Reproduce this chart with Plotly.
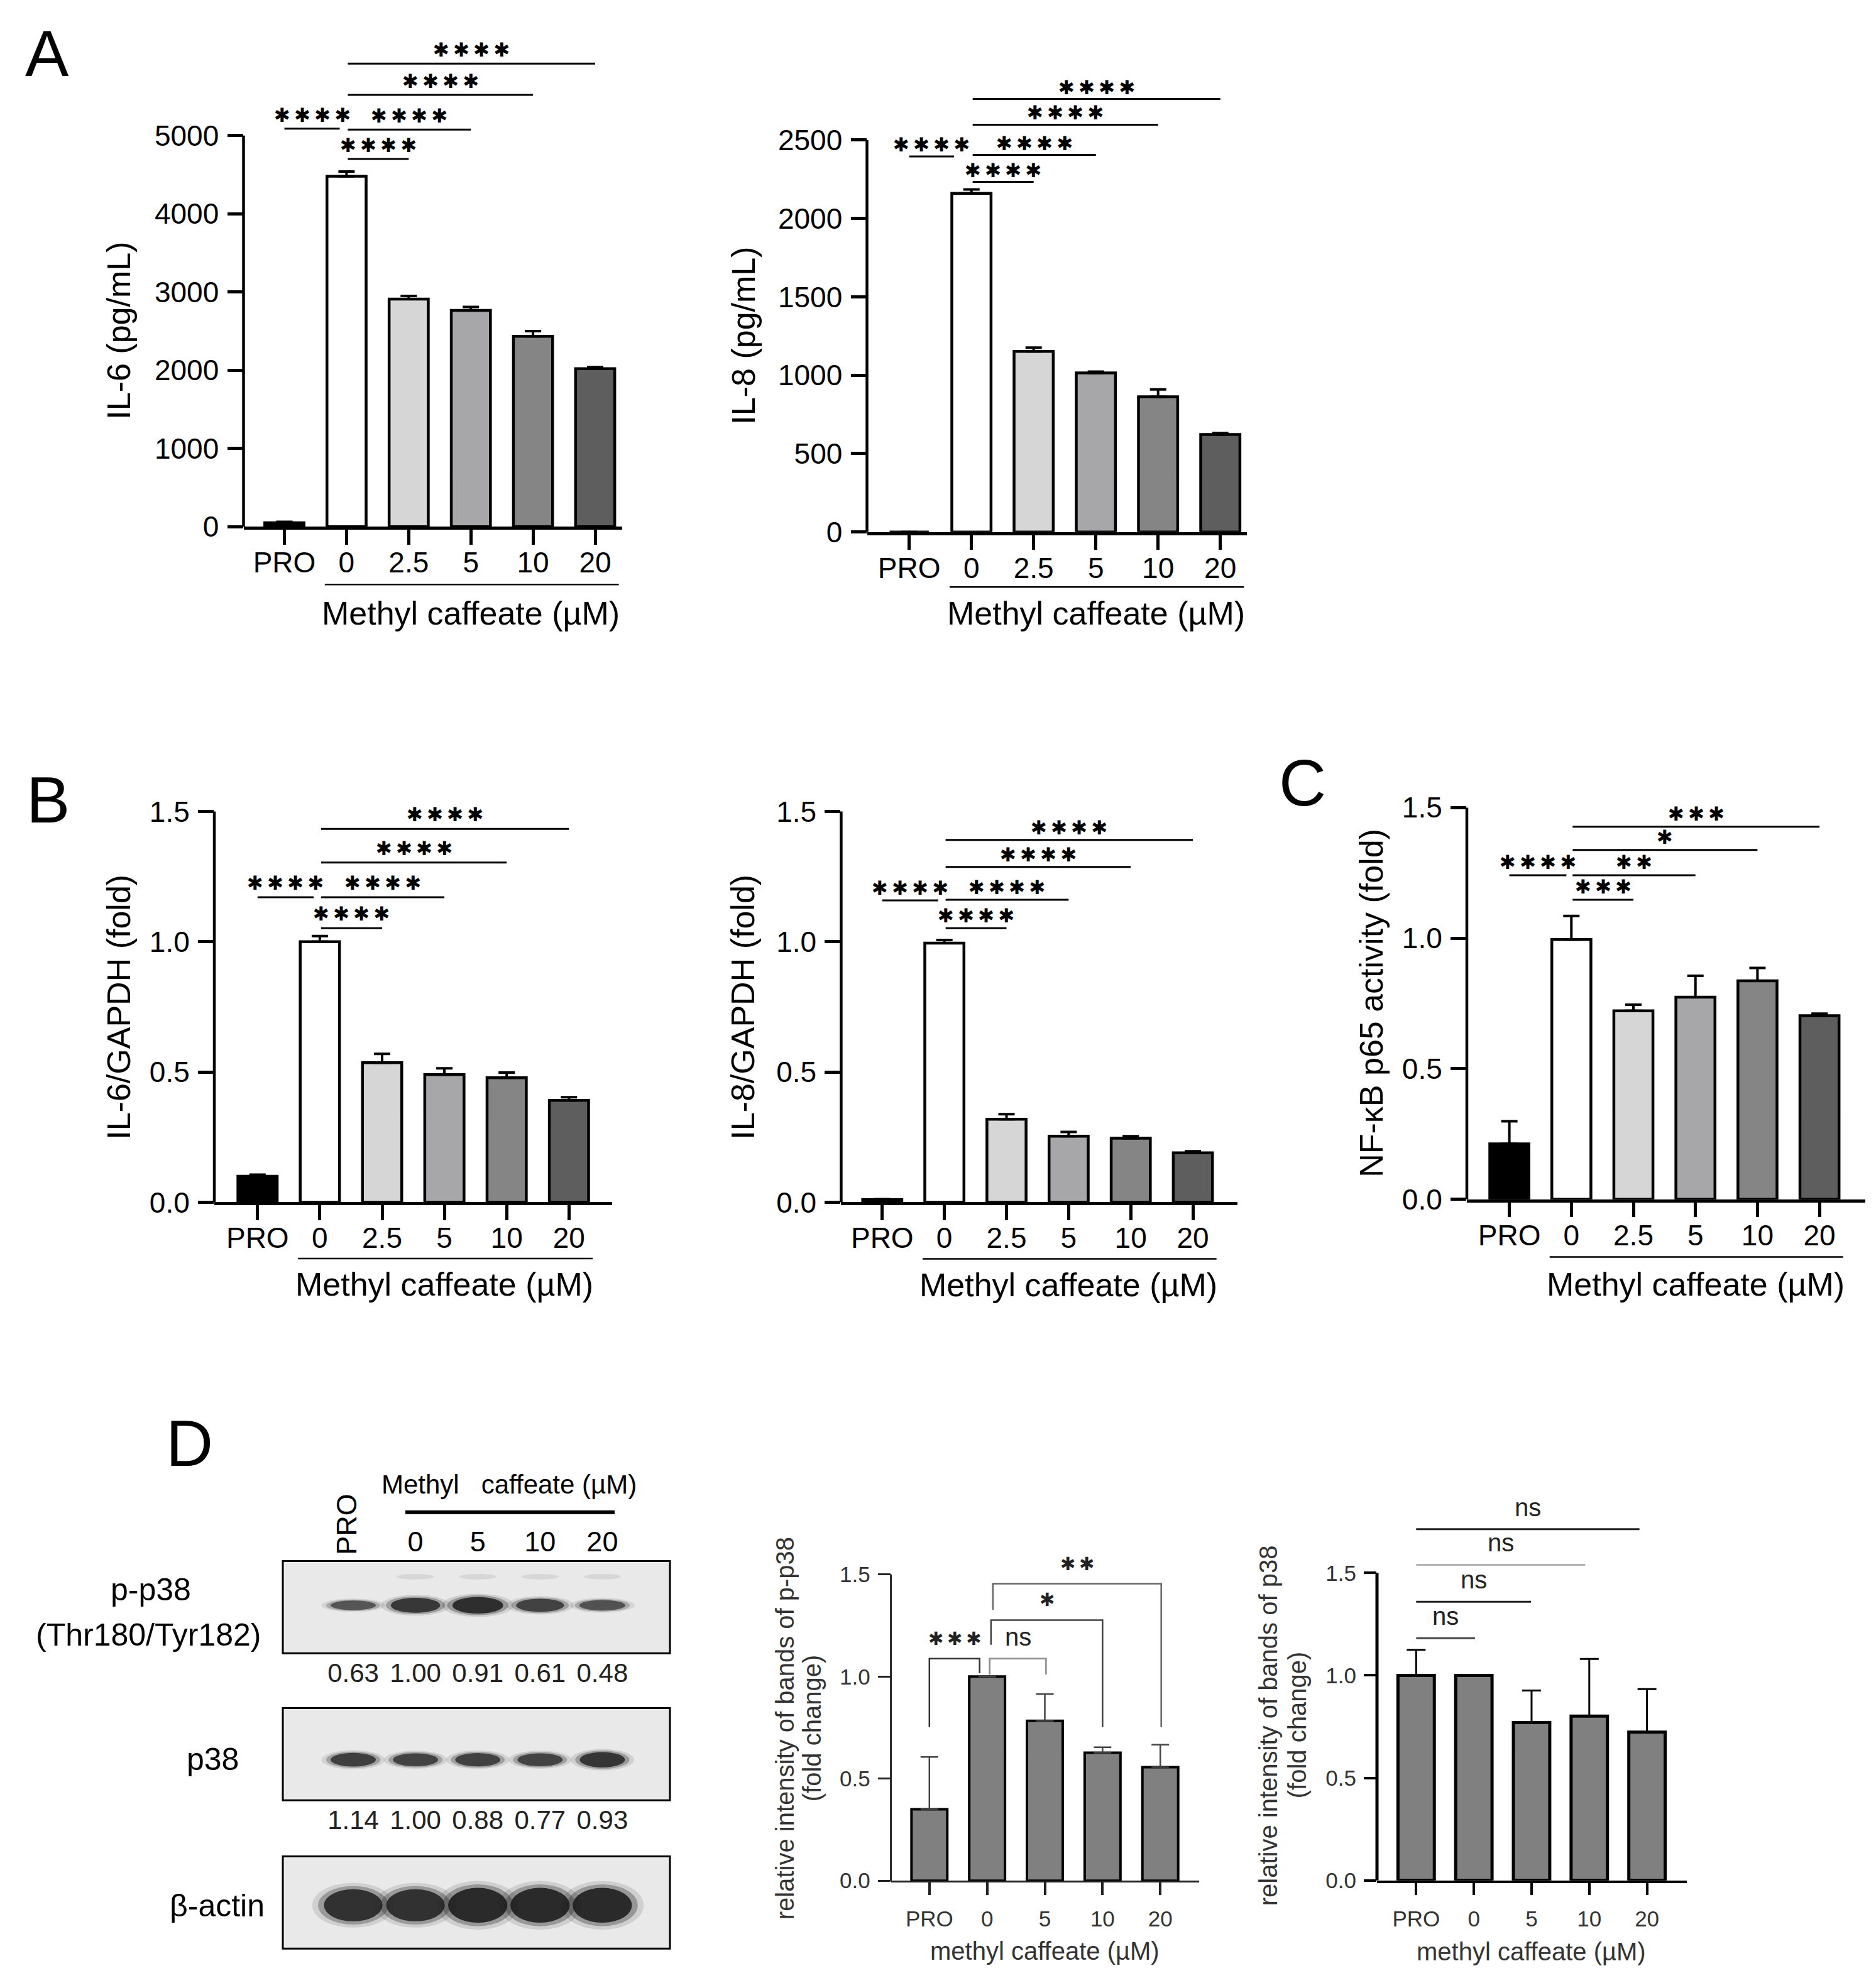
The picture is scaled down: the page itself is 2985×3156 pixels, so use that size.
import plotly.graph_objects as go

W, H = 2985, 3156
FONT = "Liberation Sans, Arial, Helvetica, sans-serif"
STAR_FONT = "DejaVu Sans, Liberation Sans, sans-serif"

# ------------------------------------------------------------------ data
cats6 = ["PRO", "0", "2.5", "5", "10", "20"]
cats5 = ["PRO", "0", "5", "10", "20"]

il6_pg = [50, 4480, 2910, 2765, 2435, 2020]
il6_pg_err = [12, 60, 40, 45, 65, 20]
il8_pg = [0, 2160, 1152, 1015, 862, 622]
il8_pg_err = [0, 25, 24, 8, 47, 9]
il6_gapdh = [0.10, 1.00, 0.536, 0.490, 0.478, 0.391]
il6_gapdh_err = [0.006, 0.022, 0.034, 0.024, 0.020, 0.012]
il8_gapdh = [0.010, 0.995, 0.319, 0.254, 0.246, 0.190]
il8_gapdh_err = [0.002, 0.012, 0.019, 0.016, 0.008, 0.006]
nfkb_p65 = [0.212, 0.995, 0.722, 0.774, 0.837, 0.703]
nfkb_p65_err = [0.087, 0.090, 0.023, 0.082, 0.049, 0.008]
pp38_fold = [0.35, 1.00, 0.783, 0.627, 0.556]
pp38_fold_err = [0.256, 0.0, 0.131, 0.027, 0.110]
p38_fold = [1.00, 1.00, 0.770, 0.801, 0.723]
p38_fold_err = [0.125, 0.0, 0.156, 0.279, 0.210]

blot_lanes = ["PRO", "0", "5", "10", "20"]
pp38_ratio = ["0.63", "1.00", "0.91", "0.61", "0.48"]
p38_ratio = ["1.14", "1.00", "0.88", "0.77", "0.93"]
pp38_density = [0.55, 0.85, 0.95, 0.75, 0.60]
p38_density = [0.78, 0.74, 0.76, 0.74, 0.88]
actin_density = [0.92, 0.92, 1.00, 1.00, 1.00]

# significance comparisons (group i, group j, label)
sig_A1 = [(0, 1, "****"), (1, 2, "****"), (1, 3, "****"), (1, 4, "****"), (1, 5, "****")]
sig_A2 = [(0, 1, "****"), (1, 2, "****"), (1, 3, "****"), (1, 4, "****"), (1, 5, "****")]
sig_B1 = [(0, 1, "****"), (1, 2, "****"), (1, 3, "****"), (1, 4, "****"), (1, 5, "****")]
sig_B2 = [(0, 1, "****"), (1, 2, "****"), (1, 3, "****"), (1, 4, "****"), (1, 5, "****")]
sig_C = [(0, 1, "****"), (1, 2, "***"), (1, 3, "**"), (1, 4, "*"), (1, 5, "***")]
sig_D2 = [(0, 1, "***"), (1, 2, "ns"), (1, 3, "*"), (1, 4, "**")]
sig_D3 = [(0, 1, "ns"), (0, 2, "ns"), (0, 3, "ns"), (0, 4, "ns")]

# ------------------------------------------------------------------ layout (pixel geometry)
sigy_A1 = [5088, 4701, 5076, 5521, 5920]
sigy_A2 = [2395, 2233, 2405, 2598, 2762]
sigy_B1 = [1.171, 1.052, 1.171, 1.304, 1.433]
sigy_B2 = [1.159, 1.052, 1.161, 1.2875, 1.391]
sigy_C = [1.241, 1.147, 1.241, 1.338, 1.427]
# D2 brackets: bar height, left leg bottom, right leg bottom, x start, x end
brk_D2 = [(1.0876, 0.7524, 1.016, 0.0, 0.87),
          (1.0876, 1.009, 1.009, 1.044, 2.02),
          (1.2766, 1.1557, 0.7524, 1.067, 3.0),
          (1.4548, 1.3263, 0.7524, 1.10, 4.016)]
brk_D2_col = ["#333333", "#8a8a8a", "#444444", "#666666"]
sigy_D3 = [1.181, 1.359, 1.5395, 1.7128]
sigx1_D3 = [1.02, 1.99, 2.93, 3.87]
sig_D3_col = ["#444444", "#222222", "#b4b4b4", "#222222"]

GEOM = {
    "A1": dict(axis=379.5, c0=444.5, step=98.9, right=982, zero=837.2, top=209.5, ext=30,
               ticks=[0, 1000, 2000, 3000, 4000, 5000], fmt="d", pro_end=0.89),
    "A2": dict(axis=1371.5, c0=1438.7, step=99.0, right=1976, zero=845.6, top=216.7, ext=90,
               ticks=[0, 500, 1000, 1500, 2000, 2500], fmt="d", pro_end=0.72),
    "B1": dict(axis=333, c0=401.8, step=99.1, right=966, zero=1921.3, top=1294.2, ext=1240,
               ticks=[0, 0.5, 1.0, 1.5], fmt=".1f", pro_end=0.9),
    "B2": dict(axis=1330.4, c0=1395.8, step=98.85, right=1960.6, zero=1921.3, top=1294.2, ext=1240,
               ticks=[0, 0.5, 1.0, 1.5], fmt=".1f", pro_end=0.9),
    "C": dict(axis=2326, c0=2393.6, step=98.7, right=2960, zero=1916.5, top=1288, ext=1240,
              ticks=[0, 0.5, 1.0, 1.5], fmt=".1f", pro_end=0.92),
    "D2": dict(axis=1409.6, c0=1470.8, step=91.85, right=1900.4, zero=3010, top=2518.6, ext=2460,
               ticks=[0, 0.5, 1.0, 1.5], fmt=".1f", pro_end=0.87),
    "D3": dict(axis=2183, c0=2245.3, step=91.83, right=2676.4, zero=3009.5, top=2516, ext=2370,
               ticks=[0, 0.5, 1.0, 1.5], fmt=".1f", pro_end=1.0),
}

GRAYS = ["#000000", "#ffffff", "#d6d6d6", "#a7a7aa", "#858585", "#5e5e5e"]
D_FILL = "#808080"

STY_ABC = dict(axcolor="black", xlw=4.5, ylw=4.5, xticklen=24, xtickw=4.5, yticklen=25, ytickw=4.5,
               catsize=46, ticksize=46, textcolor="black", barline=4.5, barw=0.63,
               errcolor="black", errthick=4, errwidth=13, catstandoff=-11, ystandoff=4)
STY_D2 = dict(axcolor="#222222", xlw=3, ylw=3, xticklen=20, xtickw=4, yticklen=20, ytickw=3,
              catsize=35, ticksize=35, textcolor="#333333", barline=4, barw=0.62,
              errcolor="#444444", errthick=2.5, errwidth=14, catstandoff=8, ystandoff=5)
STY_D3 = dict(axcolor="black", xlw=3.5, ylw=5, xticklen=20, xtickw=4, yticklen=20, ytickw=4,
              catsize=35, ticksize=35, textcolor="#333333", barline=5, barw=0.63,
              errcolor="black", errthick=3, errwidth=15, catstandoff=8, ystandoff=5)


def px_x(p):
    return p / W


def px_y(p):
    return 1 - p / H


def stars(lbl):
    # significance asterisks drawn with a compact asterisk glyph
    return "\u2009".join("\u2731" for _ in lbl) if set(lbl) == {"*"} else lbl


fig = go.Figure()
layout = dict(width=W, height=H, autosize=False, margin=dict(l=0, r=0, t=0, b=0),
              paper_bgcolor="white", plot_bgcolor="rgba(0,0,0,0)", showlegend=False,
              font=dict(family=FONT, color="black"))
shapes = []
annotations = []


def names(n):
    s = "" if n == 1 else str(n)
    return "xaxis" + s, "yaxis" + s, "x" + s, "y" + s


def bar_panel(n, g, cats, vals, errs, colors, st):
    xk, yk, xr, yr = names(n)
    x0 = (g["axis"] - g["c0"]) / g["step"]
    x1 = (g["right"] - g["c0"]) / g["step"]
    topval = g["ticks"][-1]
    ytop = topval * (g["zero"] - g["ext"]) / (g["zero"] - g["top"])
    if g["fmt"] == "d":
        ttext = [str(int(v)) for v in g["ticks"]]
    else:
        ttext = ["%.1f" % v for v in g["ticks"]]
    layout[xk] = dict(domain=[px_x(g["axis"]), px_x(g["right"])], range=[x0, x1], anchor=yr,
                      tickmode="array", tickvals=list(range(len(cats))), ticktext=cats,
                      showline=True, linecolor=st["axcolor"], linewidth=st["xlw"],
                      ticks="outside", ticklen=st["xticklen"], tickwidth=st["xtickw"],
                      tickcolor=st["axcolor"], ticklabelstandoff=st["catstandoff"],
                      tickfont=dict(size=st["catsize"], color=st["textcolor"], family=FONT),
                      showgrid=False, zeroline=False, fixedrange=True)
    layout[yk] = dict(domain=[px_y(g["zero"]), px_y(g["ext"])], range=[0, ytop], anchor=xr,
                      tickmode="array", tickvals=g["ticks"], ticktext=ttext,
                      showline=False, ticks="outside", ticklen=st["yticklen"],
                      tickwidth=st["ytickw"], tickcolor=st["axcolor"],
                      ticklabelstandoff=st["ystandoff"],
                      tickfont=dict(size=st["ticksize"], color=st["textcolor"], family=FONT),
                      showgrid=False, zeroline=False, fixedrange=True)
    # y axis line only up to the top tick
    shapes.append(dict(type="line", xref=xr + " domain", yref=yr, x0=0, x1=0, y0=0, y1=topval,
                       line=dict(color=st["axcolor"], width=st["ylw"]), layer="above"))
    fig.add_trace(go.Bar(
        x=list(range(len(vals))), y=vals, width=st["barw"], xaxis=xr, yaxis=yr,
        marker=dict(color=colors, line=dict(color="black", width=st["barline"])),
        error_y=dict(type="data", symmetric=False, array=errs, arrayminus=[0] * len(errs),
                     color=st["errcolor"], thickness=st["errthick"], width=st["errwidth"]),
        showlegend=False, hoverinfo="skip"))
    return xr, yr


def flat_sig(xr, yr, g, sig, heights, size=31, lw=3, shift=20):
    for (i, j, lbl), h in zip(sig, heights):
        xa = i if i == 0 else i + 0.02
        xb = g["pro_end"] if (i == 0 and j == 1) else j
        shapes.append(dict(type="line", xref=xr, yref=yr, x0=xa, x1=xb, y0=h, y1=h,
                           line=dict(color="black", width=lw), layer="above"))
        annotations.append(dict(xref=xr, yref=yr, x=(xa + xb) / 2, y=h, text=stars(lbl),
                                showarrow=False, xanchor="center", yanchor="middle", yshift=shift,
                                font=dict(size=size, color="black", family=STAR_FONT)))


def methyl_label(xr, y_line, y_text, size=52):
    shapes.append(dict(type="line", xref=xr, yref="paper", x0=0.65, x1=5.38,
                       y0=px_y(y_line), y1=px_y(y_line), line=dict(color="black", width=2.5)))
    annotations.append(dict(xref=xr, yref="paper", x=3, y=px_y(y_text), text="Methyl caffeate (µM)",
                            showarrow=False, xanchor="center", yanchor="middle",
                            font=dict(size=size, color="black", family=FONT)))


def ytitle(text, xp, yp, size=52, color="black"):
    annotations.append(dict(xref="paper", yref="paper", x=px_x(xp), y=px_y(yp), text=text,
                            textangle=-90, showarrow=False, xanchor="center", yanchor="middle",
                            font=dict(size=size, color=color, family=FONT)))


def letter(text, xp, yp):
    annotations.append(dict(xref="paper", yref="paper", x=px_x(xp), y=px_y(yp), text=text,
                            showarrow=False, xanchor="center", yanchor="middle",
                            font=dict(size=104, color="black", family=FONT)))


# ------------------------------------------------------------------ panels A, B, C
xr, yr = bar_panel(1, GEOM["A1"], cats6, il6_pg, il6_pg_err, GRAYS, STY_ABC)
flat_sig(xr, yr, GEOM["A1"], sig_A1, sigy_A1, shift=22)
methyl_label(xr, 930, 976)
ytitle("IL-6 (pg/mL)", 181, 523)

xr, yr = bar_panel(2, GEOM["A2"], cats6, il8_pg, il8_pg_err, GRAYS, STY_ABC)
flat_sig(xr, yr, GEOM["A2"], sig_A2, sigy_A2, shift=19)
methyl_label(xr, 934, 976)
ytitle("IL-8 (pg/mL)", 1175, 531)

xr, yr = bar_panel(3, GEOM["B1"], cats6, il6_gapdh, il6_gapdh_err, GRAYS, STY_ABC)
flat_sig(xr, yr, GEOM["B1"], sig_B1, sigy_B1, shift=23)
methyl_label(xr, 2011.6, 2052.8)
ytitle("IL-6/GAPDH (fold)", 181, 1608)

xr, yr = bar_panel(4, GEOM["B2"], cats6, il8_gapdh, il8_gapdh_err, GRAYS, STY_ABC)
flat_sig(xr, yr, GEOM["B2"], sig_B2, sigy_B2, shift=20)
methyl_label(xr, 2012, 2054)
ytitle("IL-8/GAPDH (fold)", 1174, 1608)

xr, yr = bar_panel(5, GEOM["C"], cats6, nfkb_p65, nfkb_p65_err, GRAYS, STY_ABC)
flat_sig(xr, yr, GEOM["C"], sig_C, sigy_C, shift=21)
methyl_label(xr, 2009, 2053)
ytitle("NF-κB p65 activity (fold)", 2174, 1602)

# ------------------------------------------------------------------ panel D: quantification
xr, yr = bar_panel(6, GEOM["D2"], cats5, pp38_fold, pp38_fold_err, [D_FILL] * 5, STY_D2)
for (i, j, lbl), (h, l0, l1, xa, xb), col in zip(sig_D2, brk_D2, brk_D2_col):
    shapes.append(dict(type="path", xref=xr, yref=yr, layer="above",
                       path="M %f,%f L %f,%f L %f,%f L %f,%f" % (xa, l0, xa, h, xb, h, xb, l1),
                       line=dict(color=col, width=2.5)))
    is_ns = lbl == "ns"
    annotations.append(dict(xref=xr, yref=yr, x=(xa + xb) / 2, y=h, text=stars(lbl),
                            showarrow=False, xanchor="center", yanchor="middle",
                            yshift=35 if is_ns else 32,
                            font=dict(size=40 if is_ns else 29, color="#222222",
                                      family=FONT if is_ns else STAR_FONT)))
annotations.append(dict(xref=xr, yref="paper", x=2, y=px_y(3123), text="methyl caffeate (µM)",
                        showarrow=False, xanchor="center", yanchor="middle",
                        font=dict(size=40, color="#333333", family=FONT)))
ytitle("relative intensity of bands of p-p38", 1241, 2766, size=40, color="#333333")
ytitle("(fold change)", 1284, 2766, size=40, color="#333333")

xr, yr = bar_panel(7, GEOM["D3"], cats5, p38_fold, p38_fold_err, [D_FILL] * 5, STY_D3)
for (i, j, lbl), h, xb, col in zip(sig_D3, sigy_D3, sigx1_D3, sig_D3_col):
    shapes.append(dict(type="line", xref=xr, yref=yr, x0=i, x1=xb, y0=h, y1=h,
                       line=dict(color=col, width=3), layer="above"))
    annotations.append(dict(xref=xr, yref=yr, x=(i + xb) / 2, y=h, text=lbl, showarrow=False,
                            xanchor="center", yanchor="middle", yshift=35,
                            font=dict(size=40, color="#222222", family=FONT)))
annotations.append(dict(xref=xr, yref="paper", x=2, y=px_y(3124), text="methyl caffeate (µM)",
                        showarrow=False, xanchor="center", yanchor="middle",
                        font=dict(size=40, color="#333333", family=FONT)))
ytitle("relative intensity of bands of p38", 2010, 2761, size=40, color="#333333")
ytitle("(fold change)", 2056, 2761, size=40, color="#333333")

# ------------------------------------------------------------------ panel D: western blot
BL_X0, BL_X1 = 442, 1058          # blot box left/right (px)
LANE0, LANE_STEP = 554, 99.1      # first lane centre & lane spacing (px)
ROW_PX = [2571, 2807, 3045]       # blot row centres (px)
UNIT = 148.0                      # px per blot-row unit (box height)
TOP_PX, BOT_PX = 2330, 3128
rows = [(p - ROW_PX[0]) / UNIT for p in ROW_PX]
bxr, byr = "x8", "y8"
layout["xaxis8"] = dict(domain=[px_x(BL_X0), px_x(BL_X1)],
                        range=[(BL_X0 - LANE0) / LANE_STEP, (BL_X1 - LANE0) / LANE_STEP],
                        anchor=byr, visible=False, fixedrange=True)
layout["yaxis8"] = dict(domain=[px_y(BOT_PX), px_y(TOP_PX)],
                        range=[(BOT_PX - ROW_PX[0]) / UNIT, (TOP_PX - ROW_PX[0]) / UNIT],
                        anchor=bxr, visible=False, fixedrange=True)

for r in rows:
    shapes.append(dict(type="rect", xref=bxr + " domain", yref=byr, x0=0, x1=1, y0=r - 0.5, y1=r + 0.5,
                       fillcolor="#e9e9e9", line=dict(color="black", width=3), layer="below"))


def band(lane, yc, wpx, hpx, dens):
    w = wpx / LANE_STEP
    h = hpx / UNIT
    v = int(22 + (1 - dens) * 110)
    col = "rgb(%d,%d,%d)" % (v, v, v)
    for sc, op in [(1.4, 0.12), (1.2, 0.3), (1.0, 0.85)]:
        shapes.append(dict(type="circle", xref=bxr, yref=byr,
                           x0=lane - w * sc / 2, x1=lane + w * sc / 2,
                           y0=yc - h * sc / 2, y1=yc + h * sc / 2,
                           fillcolor=col, opacity=op, line=dict(width=0), layer="below"))


for k in range(len(blot_lanes)):
    # faint upper band on p-p38 membrane
    if k > 0:
        shapes.append(dict(type="circle", xref=bxr, yref=byr, x0=k - 0.3, x1=k + 0.3,
                           y0=rows[0] - 0.36, y1=rows[0] - 0.30, fillcolor="#c0c0c0",
                           opacity=0.45, line=dict(width=0), layer="below"))
    band(k, rows[0] - 0.02, 60 + 22 * pp38_density[k], 28 * pp38_density[k], pp38_density[k])
    band(k, rows[1] + 0.06, 72, 28 * p38_density[k], p38_density[k])
    band(k, rows[2] + 0.03, 84 + 10 * actin_density[k], 56 * actin_density[k], actin_density[k])

fig.add_trace(go.Scatter(x=list(range(5)), y=[rows[0] + 0.74] * 5, text=pp38_ratio, mode="text",
                         textfont=dict(size=42, color="#222222", family=FONT), xaxis=bxr, yaxis=byr,
                         cliponaxis=False, showlegend=False, hoverinfo="skip"))
fig.add_trace(go.Scatter(x=list(range(5)), y=[rows[1] + 0.74] * 5, text=p38_ratio, mode="text",
                         textfont=dict(size=42, color="#222222", family=FONT), xaxis=bxr, yaxis=byr,
                         cliponaxis=False, showlegend=False, hoverinfo="skip"))
fig.add_trace(go.Scatter(x=list(range(1, 5)), y=[rows[0] - 0.68] * 4, text=blot_lanes[1:], mode="text",
                         textfont=dict(size=45, color="black", family=FONT), xaxis=bxr, yaxis=byr,
                         cliponaxis=False, showlegend=False, hoverinfo="skip"))
annotations.append(dict(xref=bxr, yref=byr, x=-0.1, y=rows[0] - 0.9, text=blot_lanes[0],
                        textangle=-90, showarrow=False, xanchor="center", yanchor="middle",
                        font=dict(size=45, color="black", family=FONT)))
annotations.append(dict(xref=bxr, yref=byr, x=2.5, y=rows[0] - 1.33,
                        text="Methyl\u00a0\u00a0\u00a0caffeate (µM)", showarrow=False,
                        xanchor="center", yanchor="middle",
                        font=dict(size=42, color="black", family=FONT)))
shapes.append(dict(type="line", xref=bxr, yref=byr, x0=0.838, x1=4.198,
                   y0=rows[0] - 1.03, y1=rows[0] - 1.03, line=dict(color="black", width=6)))

for txt, xp, yp in [("p-p38", 231.5, 2543), ("(Thr180/Tyr182)", 228, 2616),
                    ("p38", 330, 2815), ("β-actin", 337, 3050)]:
    annotations.append(dict(xref="paper", yref="paper", x=px_x(xp), y=px_y(yp), text=txt,
                            showarrow=False, xanchor="center", yanchor="middle",
                            font=dict(size=50, color="black", family=FONT)))

# ------------------------------------------------------------------ panel letters
letter("A", 67, 78)
letter("B", 68, 1276)
letter("C", 2064, 1248)
letter("D", 293, 2308)

layout["shapes"] = shapes
layout["annotations"] = annotations
fig.update_layout(**layout)
fig.write_html("out.html")
